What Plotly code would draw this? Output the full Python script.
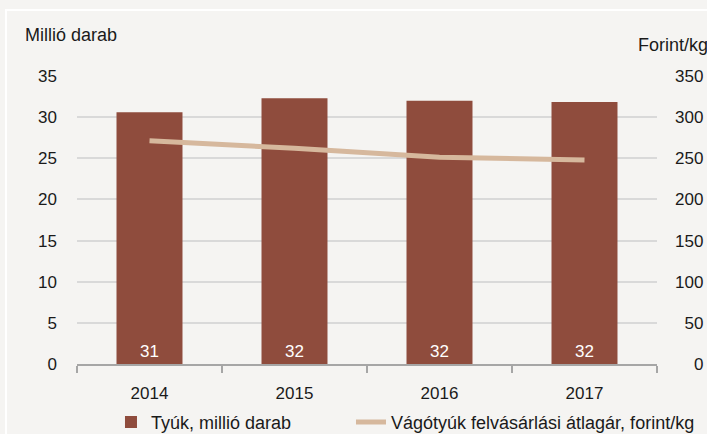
import plotly.graph_objects as go

years = ["2014", "2015", "2016", "2017"]
hens_million = [30.6, 32.3, 32.0, 31.85]
hen_labels = ["31", "32", "32", "32"]
price_ft_kg = [271.3, 262.2, 251.3, 247.9]

left_ticks = [0, 5, 10, 15, 20, 25, 30, 35]
right_ticks = [0, 50, 100, 150, 200, 250, 300, 350]
FS = "\u2007"
right_ticktext = [FS * (3 - len(str(v))) + str(v) for v in right_ticks]

BAR = "#8f4c3d"
LINE = "#d6b89d"
BG = "#f5f4f2"
FONT = "Liberation Sans, Arial, sans-serif"

fig = go.Figure()
fig.add_trace(go.Bar(
    x=years, y=hens_million, name="Tyúk, millió darab",
    marker=dict(color=BAR, line=dict(width=0)),
    text=hen_labels, textposition="inside", insidetextanchor="start",
    textangle=0, textfont=dict(color="white", size=17, family=FONT),
    yaxis="y", legend="legend",
))
fig.add_trace(go.Scatter(
    x=years, y=price_ft_kg, name="Vágótyúk felvásárlási átlagár, forint/kg",
    mode="lines", line=dict(color=LINE, width=5), yaxis="y2", legend="legend2",
))

legend_common = dict(orientation="h", xref="paper", yref="paper",
                     xanchor="left", y=-0.202, yanchor="middle",
                     font=dict(size=18, family=FONT), bgcolor="rgba(0,0,0,0)")

fig.update_layout(
    width=707, height=434,
    margin=dict(l=77, r=50, t=76, b=70, autoexpand=False),
    paper_bgcolor=BG, plot_bgcolor=BG,
    font=dict(family=FONT, size=17, color="#1a1a1a"),
    bargap=0.545,
    showlegend=True,
    legend=dict(x=0.0586, **legend_common),
    legend2=dict(x=0.4724, **legend_common),
    xaxis=dict(type="category", showgrid=False, showline=True, linecolor="#a6a6a6",
               linewidth=1.5, ticks="outside", tickson="boundaries", ticklen=7,
               tickcolor="#a6a6a6", tickwidth=1.5, ticklabelstandoff=13),
    yaxis=dict(range=[0, 35], tickvals=left_ticks, showgrid=True, gridcolor="#d9d9d9",
               gridwidth=1.5, zeroline=False, showline=False, ticks="",
               ticklabelstandoff=19),
    yaxis2=dict(range=[0, 350], tickvals=right_ticks, ticktext=right_ticktext,
                overlaying="y", side="right", showgrid=False, zeroline=False,
                showline=False, ticks="", ticklabelstandoff=17),
    annotations=[
        dict(text="Millió darab", xref="paper", yref="paper", x=-0.093, y=1.142,
             xanchor="left", yanchor="middle", showarrow=False, font=dict(size=18, family=FONT)),
        dict(text="Forint/kg", xref="paper", yref="paper", x=1.092, y=1.108,
             xanchor="right", yanchor="middle", showarrow=False, font=dict(size=18, family=FONT)),
    ],
    shapes=[dict(type="rect", xref="paper", yref="paper", x0=-0.1224, x1=1.2, y0=-0.5, y1=1.229,
                 line=dict(color="white", width=2), fillcolor="rgba(0,0,0,0)", layer="below")],
)

fig.write_html("out.html", config={"displayModeBar": False},
               post_script="document.body.style.margin='0';")
